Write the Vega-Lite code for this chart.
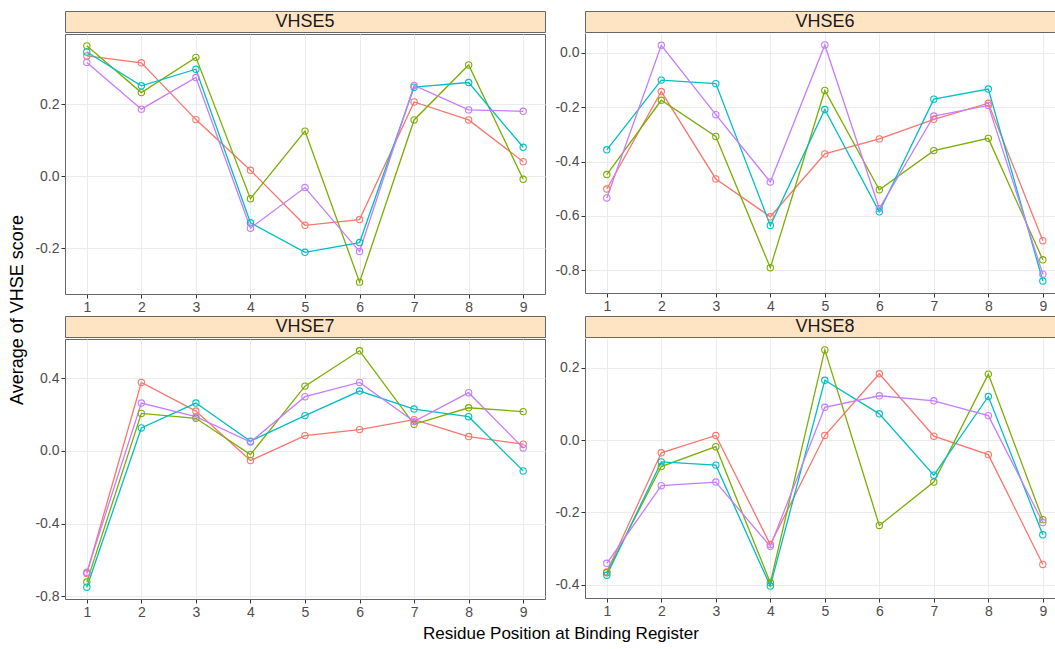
{
  "$schema": "https://vega.github.io/schema/vega-lite/v6.json",
  "background": "white",
  "padding": {"left": 9, "top": 10, "right": 0, "bottom": 4},
  "title": {"text": "Average of VHSE score", "orient": "left", "anchor": "middle", "fontSize": 18, "fontWeight": "normal", "color": "#000000", "offset": 7, "dx": 16},
  "data": {"values": [
    {"p":"VHSE5","g":"A","x":1,"v":0.335},{"p":"VHSE5","g":"A","x":2,"v":0.316},{"p":"VHSE5","g":"A","x":3,"v":0.158},{"p":"VHSE5","g":"A","x":4,"v":0.017},{"p":"VHSE5","g":"A","x":5,"v":-0.136},{"p":"VHSE5","g":"A","x":6,"v":-0.120},{"p":"VHSE5","g":"A","x":7,"v":0.207},{"p":"VHSE5","g":"A","x":8,"v":0.157},{"p":"VHSE5","g":"A","x":9,"v":0.041},
    {"p":"VHSE5","g":"B","x":1,"v":0.363},{"p":"VHSE5","g":"B","x":2,"v":0.233},{"p":"VHSE5","g":"B","x":3,"v":0.331},{"p":"VHSE5","g":"B","x":4,"v":-0.062},{"p":"VHSE5","g":"B","x":5,"v":0.126},{"p":"VHSE5","g":"B","x":6,"v":-0.294},{"p":"VHSE5","g":"B","x":7,"v":0.157},{"p":"VHSE5","g":"B","x":8,"v":0.310},{"p":"VHSE5","g":"B","x":9,"v":-0.008},
    {"p":"VHSE5","g":"C","x":1,"v":0.346},{"p":"VHSE5","g":"C","x":2,"v":0.252},{"p":"VHSE5","g":"C","x":3,"v":0.298},{"p":"VHSE5","g":"C","x":4,"v":-0.129},{"p":"VHSE5","g":"C","x":5,"v":-0.211},{"p":"VHSE5","g":"C","x":6,"v":-0.184},{"p":"VHSE5","g":"C","x":7,"v":0.248},{"p":"VHSE5","g":"C","x":8,"v":0.261},{"p":"VHSE5","g":"C","x":9,"v":0.081},
    {"p":"VHSE5","g":"D","x":1,"v":0.317},{"p":"VHSE5","g":"D","x":2,"v":0.187},{"p":"VHSE5","g":"D","x":3,"v":0.275},{"p":"VHSE5","g":"D","x":4,"v":-0.144},{"p":"VHSE5","g":"D","x":5,"v":-0.031},{"p":"VHSE5","g":"D","x":6,"v":-0.209},{"p":"VHSE5","g":"D","x":7,"v":0.253},{"p":"VHSE5","g":"D","x":8,"v":0.185},{"p":"VHSE5","g":"D","x":9,"v":0.181},
    {"p":"VHSE6","g":"A","x":1,"v":-0.501},{"p":"VHSE6","g":"A","x":2,"v":-0.143},{"p":"VHSE6","g":"A","x":3,"v":-0.464},{"p":"VHSE6","g":"A","x":4,"v":-0.603},{"p":"VHSE6","g":"A","x":5,"v":-0.372},{"p":"VHSE6","g":"A","x":6,"v":-0.317},{"p":"VHSE6","g":"A","x":7,"v":-0.245},{"p":"VHSE6","g":"A","x":8,"v":-0.186},{"p":"VHSE6","g":"A","x":9,"v":-0.691},
    {"p":"VHSE6","g":"B","x":1,"v":-0.448},{"p":"VHSE6","g":"B","x":2,"v":-0.175},{"p":"VHSE6","g":"B","x":3,"v":-0.308},{"p":"VHSE6","g":"B","x":4,"v":-0.790},{"p":"VHSE6","g":"B","x":5,"v":-0.139},{"p":"VHSE6","g":"B","x":6,"v":-0.504},{"p":"VHSE6","g":"B","x":7,"v":-0.360},{"p":"VHSE6","g":"B","x":8,"v":-0.315},{"p":"VHSE6","g":"B","x":9,"v":-0.761},
    {"p":"VHSE6","g":"C","x":1,"v":-0.357},{"p":"VHSE6","g":"C","x":2,"v":-0.101},{"p":"VHSE6","g":"C","x":3,"v":-0.114},{"p":"VHSE6","g":"C","x":4,"v":-0.635},{"p":"VHSE6","g":"C","x":5,"v":-0.209},{"p":"VHSE6","g":"C","x":6,"v":-0.585},{"p":"VHSE6","g":"C","x":7,"v":-0.171},{"p":"VHSE6","g":"C","x":8,"v":-0.134},{"p":"VHSE6","g":"C","x":9,"v":-0.839},
    {"p":"VHSE6","g":"D","x":1,"v":-0.534},{"p":"VHSE6","g":"D","x":2,"v":0.027},{"p":"VHSE6","g":"D","x":3,"v":-0.228},{"p":"VHSE6","g":"D","x":4,"v":-0.475},{"p":"VHSE6","g":"D","x":5,"v":0.028},{"p":"VHSE6","g":"D","x":6,"v":-0.573},{"p":"VHSE6","g":"D","x":7,"v":-0.233},{"p":"VHSE6","g":"D","x":8,"v":-0.194},{"p":"VHSE6","g":"D","x":9,"v":-0.814},
    {"p":"VHSE7","g":"A","x":1,"v":-0.674},{"p":"VHSE7","g":"A","x":2,"v":0.376},{"p":"VHSE7","g":"A","x":3,"v":0.219},{"p":"VHSE7","g":"A","x":4,"v":-0.053},{"p":"VHSE7","g":"A","x":5,"v":0.084},{"p":"VHSE7","g":"A","x":6,"v":0.117},{"p":"VHSE7","g":"A","x":7,"v":0.172},{"p":"VHSE7","g":"A","x":8,"v":0.079},{"p":"VHSE7","g":"A","x":9,"v":0.037},
    {"p":"VHSE7","g":"B","x":1,"v":-0.721},{"p":"VHSE7","g":"B","x":2,"v":0.206},{"p":"VHSE7","g":"B","x":3,"v":0.179},{"p":"VHSE7","g":"B","x":4,"v":-0.020},{"p":"VHSE7","g":"B","x":5,"v":0.356},{"p":"VHSE7","g":"B","x":6,"v":0.550},{"p":"VHSE7","g":"B","x":7,"v":0.146},{"p":"VHSE7","g":"B","x":8,"v":0.237},{"p":"VHSE7","g":"B","x":9,"v":0.216},
    {"p":"VHSE7","g":"C","x":1,"v":-0.749},{"p":"VHSE7","g":"C","x":2,"v":0.126},{"p":"VHSE7","g":"C","x":3,"v":0.263},{"p":"VHSE7","g":"C","x":4,"v":0.053},{"p":"VHSE7","g":"C","x":5,"v":0.194},{"p":"VHSE7","g":"C","x":6,"v":0.329},{"p":"VHSE7","g":"C","x":7,"v":0.230},{"p":"VHSE7","g":"C","x":8,"v":0.188},{"p":"VHSE7","g":"C","x":9,"v":-0.110},
    {"p":"VHSE7","g":"D","x":1,"v":-0.667},{"p":"VHSE7","g":"D","x":2,"v":0.263},{"p":"VHSE7","g":"D","x":3,"v":0.188},{"p":"VHSE7","g":"D","x":4,"v":0.049},{"p":"VHSE7","g":"D","x":5,"v":0.298},{"p":"VHSE7","g":"D","x":6,"v":0.376},{"p":"VHSE7","g":"D","x":7,"v":0.161},{"p":"VHSE7","g":"D","x":8,"v":0.320},{"p":"VHSE7","g":"D","x":9,"v":0.016},
    {"p":"VHSE8","g":"A","x":1,"v":-0.365},{"p":"VHSE8","g":"A","x":2,"v":-0.035},{"p":"VHSE8","g":"A","x":3,"v":0.013},{"p":"VHSE8","g":"A","x":4,"v":-0.289},{"p":"VHSE8","g":"A","x":5,"v":0.013},{"p":"VHSE8","g":"A","x":6,"v":0.184},{"p":"VHSE8","g":"A","x":7,"v":0.011},{"p":"VHSE8","g":"A","x":8,"v":-0.040},{"p":"VHSE8","g":"A","x":9,"v":-0.344},
    {"p":"VHSE8","g":"B","x":1,"v":-0.367},{"p":"VHSE8","g":"B","x":2,"v":-0.073},{"p":"VHSE8","g":"B","x":3,"v":-0.018},{"p":"VHSE8","g":"B","x":4,"v":-0.395},{"p":"VHSE8","g":"B","x":5,"v":0.250},{"p":"VHSE8","g":"B","x":6,"v":-0.236},{"p":"VHSE8","g":"B","x":7,"v":-0.116},{"p":"VHSE8","g":"B","x":8,"v":0.183},{"p":"VHSE8","g":"B","x":9,"v":-0.220},
    {"p":"VHSE8","g":"C","x":1,"v":-0.374},{"p":"VHSE8","g":"C","x":2,"v":-0.060},{"p":"VHSE8","g":"C","x":3,"v":-0.069},{"p":"VHSE8","g":"C","x":4,"v":-0.404},{"p":"VHSE8","g":"C","x":5,"v":0.166},{"p":"VHSE8","g":"C","x":6,"v":0.073},{"p":"VHSE8","g":"C","x":7,"v":-0.097},{"p":"VHSE8","g":"C","x":8,"v":0.121},{"p":"VHSE8","g":"C","x":9,"v":-0.262},
    {"p":"VHSE8","g":"D","x":1,"v":-0.341},{"p":"VHSE8","g":"D","x":2,"v":-0.126},{"p":"VHSE8","g":"D","x":3,"v":-0.116},{"p":"VHSE8","g":"D","x":4,"v":-0.294},{"p":"VHSE8","g":"D","x":5,"v":0.091},{"p":"VHSE8","g":"D","x":6,"v":0.123},{"p":"VHSE8","g":"D","x":7,"v":0.109},{"p":"VHSE8","g":"D","x":8,"v":0.068},{"p":"VHSE8","g":"D","x":9,"v":-0.228}
  ]},
  "spacing": 0,
  "vconcat": [
    {
      "spacing": 8,
      "hconcat": [
        {
          "spacing": 0,
          "vconcat": [
            {"width": 480, "height": 21, "view": {"fill": "#FFE4C4", "stroke": "#666666"},
             "transform": [{"filter": "datum.p === 'VHSE5'"}, {"aggregate": [{"op": "count", "as": "n"}], "groupby": ["p"]}],
             "mark": {"type": "text", "fontSize": 18, "color": "#1a1a1a"},
             "encoding": {"text": {"field": "p"}}},
            {"width": 480, "height": 260,
             "transform": [{"filter": "datum.p === 'VHSE5'"}],
             "encoding": {
               "x": {"field": "x", "type": "quantitative", "scale": {"domain": [0.6, 9.4], "nice": false, "zero": false}, "axis": {"values": [1,2,3,4,5,6,7,8,9], "title": null}},
               "y": {"field": "v", "type": "quantitative", "scale": {"domain": [-0.327, 0.396], "nice": false, "zero": false}, "axis": {"values": [-0.2, 0, 0.2], "title": null, "format": ".1f", "labelExpr": "replace(datum.label, '\u2212', '-')"}},
               "color": {"field": "g", "type": "nominal", "scale": {"domain": ["A","B","C","D"], "range": ["#F8766D","#7CAE00","#00BFC4","#C77CFF"]}, "legend": null}
             },
             "layer": [
               {"mark": {"type": "line", "strokeWidth": 1.3}},
               {"mark": {"type": "point", "filled": false, "size": 40, "strokeWidth": 1.1, "opacity": 1}}
             ]}
          ]
        },
        {
          "spacing": 0,
          "vconcat": [
            {"width": 472, "height": 21, "view": {"fill": "#FFE4C4", "stroke": "#666666"},
             "transform": [{"filter": "datum.p === 'VHSE6'"}, {"aggregate": [{"op": "count", "as": "n"}], "groupby": ["p"]}],
             "mark": {"type": "text", "fontSize": 18, "color": "#1a1a1a", "dx": 4},
             "encoding": {"text": {"field": "p"}}},
            {"width": 472, "height": 260, "view": {"stroke": null},
             "transform": [{"filter": "datum.p === 'VHSE6'"}],
             "encoding": {
               "x": {"field": "x", "type": "quantitative", "scale": {"domain": [0.6, 9.26], "nice": false, "zero": false}, "axis": {"values": [1,2,3,4,5,6,7,8,9], "title": null, "domain": true}},
               "y": {"field": "v", "type": "quantitative", "scale": {"domain": [-0.883, 0.072], "nice": false, "zero": false}, "axis": {"values": [-0.8, -0.6, -0.4, -0.2, 0], "title": null, "domain": true, "format": ".1f", "labelExpr": "replace(datum.label, '\u2212', '-')"}},
               "color": {"field": "g", "type": "nominal", "scale": {"domain": ["A","B","C","D"], "range": ["#F8766D","#7CAE00","#00BFC4","#C77CFF"]}, "legend": null}
             },
             "layer": [
               {"mark": {"type": "line", "strokeWidth": 1.3}},
               {"mark": {"type": "point", "filled": false, "size": 40, "strokeWidth": 1.1, "opacity": 1}}
             ]}
          ]
        }
      ]
    },
    {
      "spacing": 8,
      "title": {"text": "Residue Position at Binding Register", "orient": "bottom", "anchor": "middle", "fontSize": 17, "fontWeight": "normal", "color": "#000000", "offset": 6, "dx": 15},
      "hconcat": [
        {
          "spacing": 0,
          "vconcat": [
            {"width": 480, "height": 21, "view": {"fill": "#FFE4C4", "stroke": "#666666"},
             "transform": [{"filter": "datum.p === 'VHSE7'"}, {"aggregate": [{"op": "count", "as": "n"}], "groupby": ["p"]}],
             "mark": {"type": "text", "fontSize": 18, "color": "#1a1a1a"},
             "encoding": {"text": {"field": "p"}}},
            {"width": 480, "height": 260,
             "transform": [{"filter": "datum.p === 'VHSE7'"}],
             "encoding": {
               "x": {"field": "x", "type": "quantitative", "scale": {"domain": [0.6, 9.4], "nice": false, "zero": false}, "axis": {"values": [1,2,3,4,5,6,7,8,9], "title": null}},
               "y": {"field": "v", "type": "quantitative", "scale": {"domain": [-0.814, 0.615], "nice": false, "zero": false}, "axis": {"values": [-0.8, -0.4, 0, 0.4], "title": null, "format": ".1f", "labelExpr": "replace(datum.label, '\u2212', '-')"}},
               "color": {"field": "g", "type": "nominal", "scale": {"domain": ["A","B","C","D"], "range": ["#F8766D","#7CAE00","#00BFC4","#C77CFF"]}, "legend": null}
             },
             "layer": [
               {"mark": {"type": "line", "strokeWidth": 1.3}},
               {"mark": {"type": "point", "filled": false, "size": 40, "strokeWidth": 1.1, "opacity": 1}}
             ]}
          ]
        },
        {
          "spacing": 0,
          "vconcat": [
            {"width": 472, "height": 21, "view": {"fill": "#FFE4C4", "stroke": "#666666"},
             "transform": [{"filter": "datum.p === 'VHSE8'"}, {"aggregate": [{"op": "count", "as": "n"}], "groupby": ["p"]}],
             "mark": {"type": "text", "fontSize": 18, "color": "#1a1a1a", "dx": 4},
             "encoding": {"text": {"field": "p"}}},
            {"width": 472, "height": 260, "view": {"stroke": null},
             "transform": [{"filter": "datum.p === 'VHSE8'"}],
             "encoding": {
               "x": {"field": "x", "type": "quantitative", "scale": {"domain": [0.6, 9.26], "nice": false, "zero": false}, "axis": {"values": [1,2,3,4,5,6,7,8,9], "title": null, "domain": true}},
               "y": {"field": "v", "type": "quantitative", "scale": {"domain": [-0.437, 0.283], "nice": false, "zero": false}, "axis": {"values": [-0.4, -0.2, 0, 0.2], "title": null, "domain": true, "format": ".1f", "labelExpr": "replace(datum.label, '\u2212', '-')"}},
               "color": {"field": "g", "type": "nominal", "scale": {"domain": ["A","B","C","D"], "range": ["#F8766D","#7CAE00","#00BFC4","#C77CFF"]}, "legend": null}
             },
             "layer": [
               {"mark": {"type": "line", "strokeWidth": 1.3}},
               {"mark": {"type": "point", "filled": false, "size": 40, "strokeWidth": 1.1, "opacity": 1}}
             ]}
          ]
        }
      ]
    }
  ],
  "config": {
    "font": "Liberation Sans",
    "view": {"stroke": "#666666"},
    "axis": {"labelFontSize": 14, "labelColor": "#4d4d4d", "tickColor": "#333333", "tickSize": 4, "labelPadding": 2, "gridColor": "#ebebeb", "gridWidth": 1, "domain": false, "domainColor": "#666666", "labelFont": "Liberation Sans"},
    "title": {"font": "Liberation Sans"}
  }
}
